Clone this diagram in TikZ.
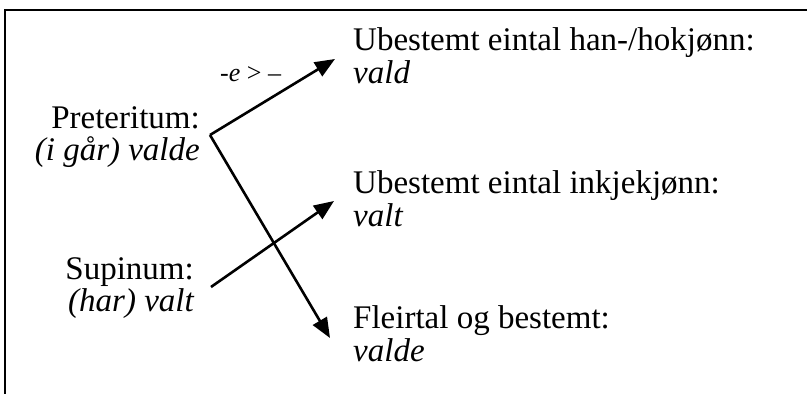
\documentclass[tikz,border=0pt]{standalone}
\usepackage{fontspec}
\setmainfont{Liberation Serif}
\usetikzlibrary{arrows.meta}
\tikzset{
  txt/.style={inner sep=0pt, font=\fontsize{33}{34}\selectfont},
  lbl/.style={inner sep=0pt, font=\fontsize{26}{28}\selectfont},
  arr/.style={line width=2.6pt, -{Triangle[length=20pt,width=16pt]}},
  frame/.style={line width=2pt}
}
\begin{document}
\begin{tikzpicture}[x=1pt,y=-1pt]
\useasboundingbox (0,0) rectangle (807,394);
% frame
\coordinate (fa) at (5,394);
\coordinate (fb) at (5,10);
\coordinate (fc) at (807,10);
\draw[frame] (fa) -- (fb) -- (fc);
% left labels
\node[txt, anchor=base east] (pret) at (200,128) {Preteritum:};
\node[txt, anchor=base east] (pretv) at (200,160) {\itshape (i går) valde};
\node[txt, anchor=base east] (sup) at (194,279) {Supinum:};
\node[txt, anchor=base east] (supv) at (194,311) {\itshape (har) valt};
% right labels
\node[txt, anchor=base west] (r1) at (353,50) {Ubestemt eintal han-/hokjønn:};
\node[txt, anchor=base west] (r1v) at (353,83) {\itshape vald};
\node[txt, anchor=base west] (r2) at (353,193) {Ubestemt eintal inkjekjønn:};
\node[txt, anchor=base west] (r2v) at (353,226) {\itshape valt};
\node[txt, anchor=base west] (r3) at (353,328) {Fleirtal og bestemt:};
\node[txt, anchor=base west] (r3v) at (353,361) {\itshape valde};
% small label
\node[lbl, anchor=base west] (rule) at (220,81) {\itshape -e\upshape\ >\ –};
% arrows
\coordinate (v) at (210,135);
\coordinate (t1) at (335,59);
\coordinate (t2) at (330,338);
\coordinate (s) at (211,287);
\coordinate (t3) at (334,201);
\draw[arr] (v) -- (t1);
\draw[arr] (v) -- (t2);
\draw[arr] (s) -- (t3);
\end{tikzpicture}
\end{document}
